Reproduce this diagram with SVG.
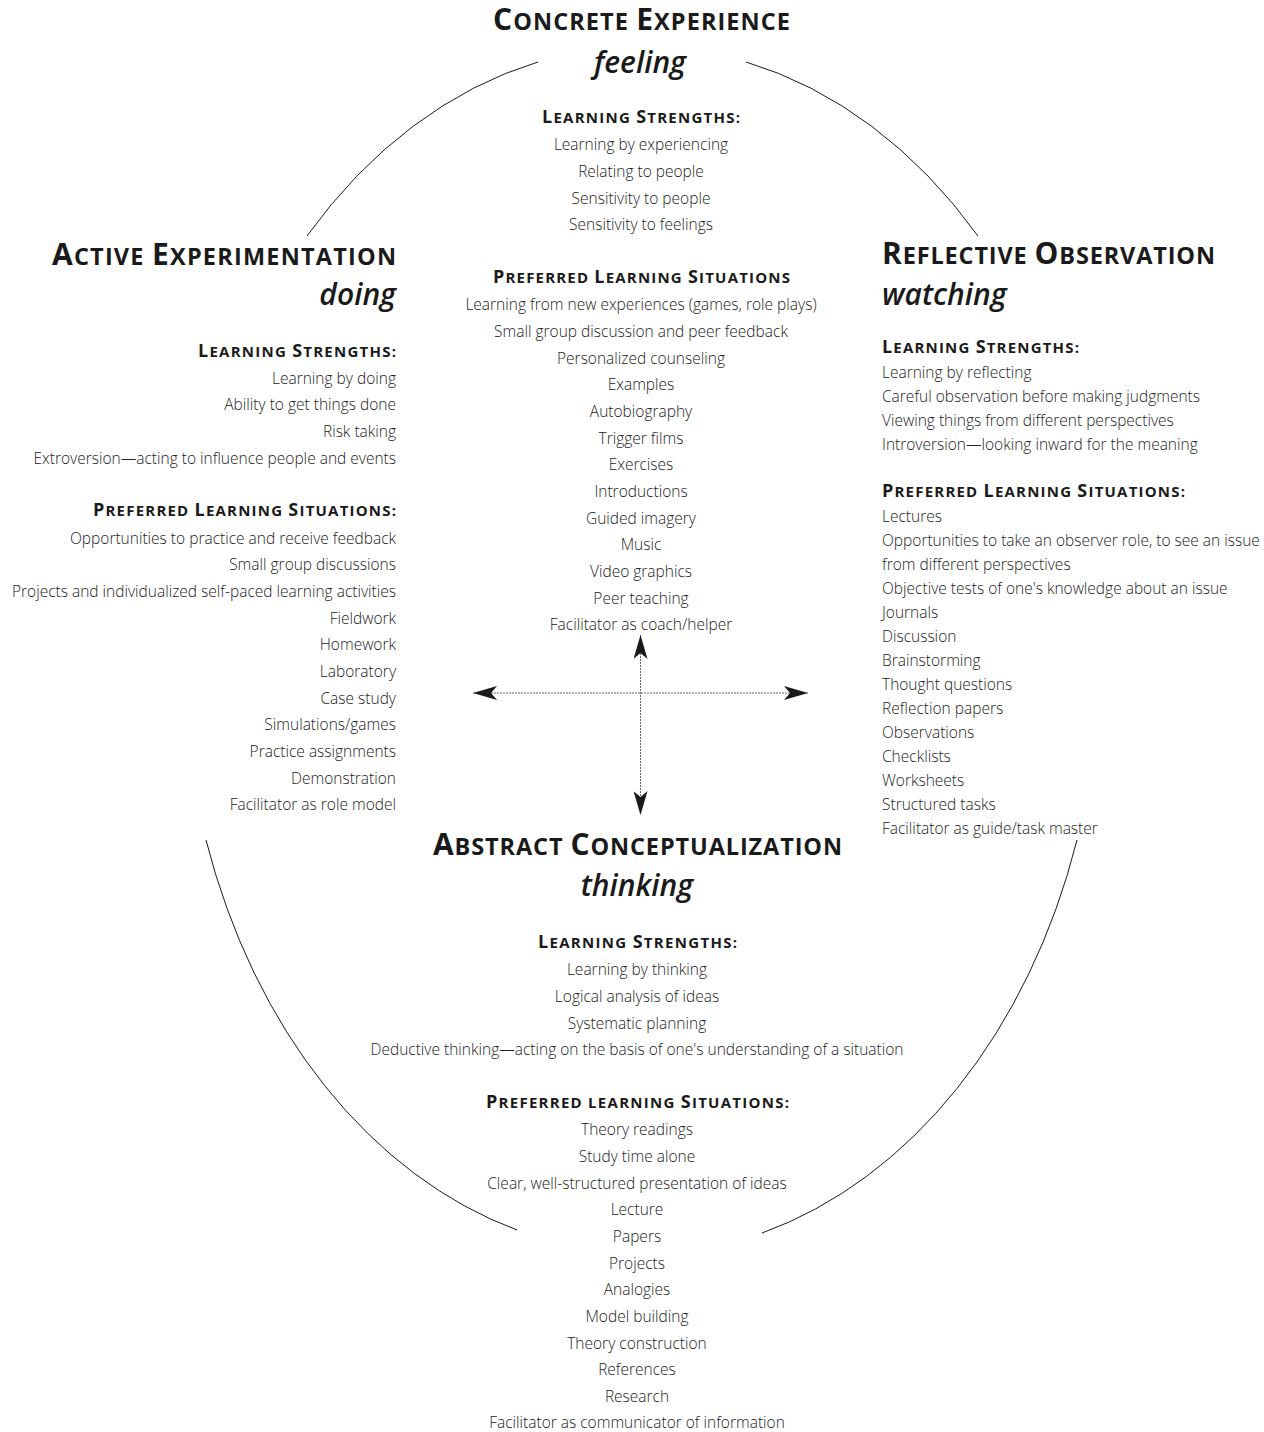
<svg xmlns="http://www.w3.org/2000/svg" width="1264" height="1432" viewBox="0 0 1264 1432">
<style>
  .bg{fill:#ffffff}
  .arc{fill:none;stroke:#1a1a1a;stroke-width:1}
  .axis{stroke:#666;stroke-width:1;stroke-dasharray:2 1;fill:none}
  .title{font-family:"Open Sans","Noto Sans",sans-serif;font-weight:700;font-size:23.5px;fill:#1a1a1a}
  .tcap{font-size:30px}
  .mode{font-family:"Open Sans","Noto Sans",sans-serif;font-weight:600;font-style:italic;font-size:30px;fill:#1a1a1a}
  .sub{font-family:"Open Sans","Noto Sans",sans-serif;font-weight:700;font-size:15px;fill:#1a1a1a}
  .scap{font-size:18px}
  .item{font-family:"Open Sans","Noto Sans",sans-serif;font-weight:300;font-size:15.5px;fill:#222}
  .c{text-anchor:middle}
  .r{text-anchor:end}
  .l{text-anchor:start}
</style>
<defs>
  <marker id="head" viewBox="0 0 24 14" refX="24" refY="7" markerWidth="24" markerHeight="14" markerUnits="userSpaceOnUse" orient="auto-start-reverse">
    <path d="M0,0 L24,7 L0,14 L6,7 Z" fill="#1a1a1a"/>
  </marker>
</defs>
<rect class="bg" x="0" y="0" width="1264" height="1432"/>

<g id="connectors">
  <path class="arc" d="M307,236 A460,604 0 0 1 538,62"/>
  <path class="arc" d="M746,62 A460,604 0 0 1 978,236"/>
  <path class="arc" d="M1077,840 A460,604 0 0 1 762,1233"/>
  <path class="arc" d="M517,1230 A460,604 0 0 1 206,840"/>
  <line class="axis" x1="473" y1="693" x2="808" y2="693" marker-start="url(#head)" marker-end="url(#head)"/>
  <line class="axis" x1="640.5" y1="635" x2="640.5" y2="815" marker-start="url(#head)" marker-end="url(#head)"/>
</g>

<g id="concrete-experience">
  <text class="title c" x="641.5" y="30" textLength="297" lengthAdjust="spacing"><tspan class="tcap">C</tspan>ONCRETE <tspan class="tcap">E</tspan>XPERIENCE</text>
  <text class="mode c" x="640" y="73">feeling</text>
  <text class="sub c" x="641" y="123" textLength="198" lengthAdjust="spacing"><tspan class="scap">L</tspan>EARNING <tspan class="scap">S</tspan>TRENGTHS:</text>
  <text class="item c" x="641" y="150">Learning by experiencing</text>
  <text class="item c" x="641" y="177">Relating to people</text>
  <text class="item c" x="641" y="204">Sensitivity to people</text>
  <text class="item c" x="641" y="230">Sensitivity to feelings</text>
  <text class="sub c" x="641.5" y="283" textLength="297" lengthAdjust="spacing"><tspan class="scap">P</tspan>REFERRED <tspan class="scap">L</tspan>EARNING <tspan class="scap">S</tspan>ITUATIONS</text>
  <text class="item c" x="641" y="310">Learning from new experiences (games, role plays)</text>
  <text class="item c" x="641" y="337">Small group discussion and peer feedback</text>
  <text class="item c" x="641" y="364">Personalized counseling</text>
  <text class="item c" x="641" y="390">Examples</text>
  <text class="item c" x="641" y="417">Autobiography</text>
  <text class="item c" x="641" y="444">Trigger films</text>
  <text class="item c" x="641" y="470">Exercises</text>
  <text class="item c" x="641" y="497">Introductions</text>
  <text class="item c" x="641" y="524">Guided imagery</text>
  <text class="item c" x="641" y="550">Music</text>
  <text class="item c" x="641" y="577">Video graphics</text>
  <text class="item c" x="641" y="604">Peer teaching</text>
  <text class="item c" x="641" y="630">Facilitator as coach/helper</text>
</g>

<g id="active-experimentation">
  <text class="title r" x="396" y="265" textLength="344" lengthAdjust="spacing"><tspan class="tcap">A</tspan>CTIVE <tspan class="tcap">E</tspan>XPERIMENTATION</text>
  <text class="mode r" x="396" y="305">doing</text>
  <text class="sub r" x="396" y="357" textLength="198" lengthAdjust="spacing"><tspan class="scap">L</tspan>EARNING <tspan class="scap">S</tspan>TRENGTHS:</text>
  <text class="item r" x="396" y="384">Learning by doing</text>
  <text class="item r" x="396" y="410">Ability to get things done</text>
  <text class="item r" x="396" y="437">Risk taking</text>
  <text class="item r" x="396" y="464">Extroversion—acting to influence people and events</text>
  <text class="sub r" x="396" y="516" textLength="303" lengthAdjust="spacing"><tspan class="scap">P</tspan>REFERRED <tspan class="scap">L</tspan>EARNING <tspan class="scap">S</tspan>ITUATIONS:</text>
  <text class="item r" x="396" y="544">Opportunities to practice and receive feedback</text>
  <text class="item r" x="396" y="570">Small group discussions</text>
  <text class="item r" x="396" y="597">Projects and individualized self-paced learning activities</text>
  <text class="item r" x="396" y="624">Fieldwork</text>
  <text class="item r" x="396" y="650">Homework</text>
  <text class="item r" x="396" y="677">Laboratory</text>
  <text class="item r" x="396" y="704">Case study</text>
  <text class="item r" x="396" y="730">Simulations/games</text>
  <text class="item r" x="396" y="757">Practice assignments</text>
  <text class="item r" x="396" y="784">Demonstration</text>
  <text class="item r" x="396" y="810">Facilitator as role model</text>
</g>

<g id="reflective-observation">
  <text class="title l" x="882" y="264" textLength="333" lengthAdjust="spacing"><tspan class="tcap">R</tspan>EFLECTIVE <tspan class="tcap">O</tspan>BSERVATION</text>
  <text class="mode l" x="882" y="305">watching</text>
  <text class="sub l" x="882" y="353" textLength="197" lengthAdjust="spacing"><tspan class="scap">L</tspan>EARNING <tspan class="scap">S</tspan>TRENGTHS:</text>
  <text class="item l" x="882" y="378">Learning by reflecting</text>
  <text class="item l" x="882" y="402">Careful observation before making judgments</text>
  <text class="item l" x="882" y="426">Viewing things from different perspectives</text>
  <text class="item l" x="882" y="450">Introversion—looking inward for the meaning</text>
  <text class="sub l" x="882" y="497" textLength="303" lengthAdjust="spacing"><tspan class="scap">P</tspan>REFERRED <tspan class="scap">L</tspan>EARNING <tspan class="scap">S</tspan>ITUATIONS:</text>
  <text class="item l" x="882" y="522">Lectures</text>
  <text class="item l" x="882" y="546">Opportunities to take an observer role, to see an issue</text>
  <text class="item l" x="882" y="570">from different perspectives</text>
  <text class="item l" x="882" y="594">Objective tests of one's knowledge about an issue</text>
  <text class="item l" x="882" y="618">Journals</text>
  <text class="item l" x="882" y="642">Discussion</text>
  <text class="item l" x="882" y="666">Brainstorming</text>
  <text class="item l" x="882" y="690">Thought questions</text>
  <text class="item l" x="882" y="714">Reflection papers</text>
  <text class="item l" x="882" y="738">Observations</text>
  <text class="item l" x="882" y="762">Checklists</text>
  <text class="item l" x="882" y="786">Worksheets</text>
  <text class="item l" x="882" y="810">Structured tasks</text>
  <text class="item l" x="882" y="834">Facilitator as guide/task master</text>
</g>

<g id="abstract-conceptualization">
  <text class="title c" x="637.5" y="855" textLength="409" lengthAdjust="spacing"><tspan class="tcap">A</tspan>BSTRACT <tspan class="tcap">C</tspan>ONCEPTUALIZATION</text>
  <text class="mode c" x="637" y="896">thinking</text>
  <text class="sub c" x="637.5" y="948" textLength="199" lengthAdjust="spacing"><tspan class="scap">L</tspan>EARNING <tspan class="scap">S</tspan>TRENGTHS:</text>
  <text class="item c" x="637" y="975">Learning by thinking</text>
  <text class="item c" x="637" y="1002">Logical analysis of ideas</text>
  <text class="item c" x="637" y="1029">Systematic planning</text>
  <text class="item c" x="637" y="1055">Deductive thinking—acting on the basis of one's understanding of a situation</text>
  <text class="sub c" x="637.5" y="1108" textLength="303" lengthAdjust="spacing"><tspan class="scap">P</tspan>REFERRED LEARNING <tspan class="scap">S</tspan>ITUATIONS:</text>
  <text class="item c" x="637" y="1135">Theory readings</text>
  <text class="item c" x="637" y="1162">Study time alone</text>
  <text class="item c" x="637" y="1189">Clear, well-structured presentation of ideas</text>
  <text class="item c" x="637" y="1215">Lecture</text>
  <text class="item c" x="637" y="1242">Papers</text>
  <text class="item c" x="637" y="1269">Projects</text>
  <text class="item c" x="637" y="1295">Analogies</text>
  <text class="item c" x="637" y="1322">Model building</text>
  <text class="item c" x="637" y="1349">Theory construction</text>
  <text class="item c" x="637" y="1375">References</text>
  <text class="item c" x="637" y="1402">Research</text>
  <text class="item c" x="637" y="1428">Facilitator as communicator of information</text>
</g>
</svg>
